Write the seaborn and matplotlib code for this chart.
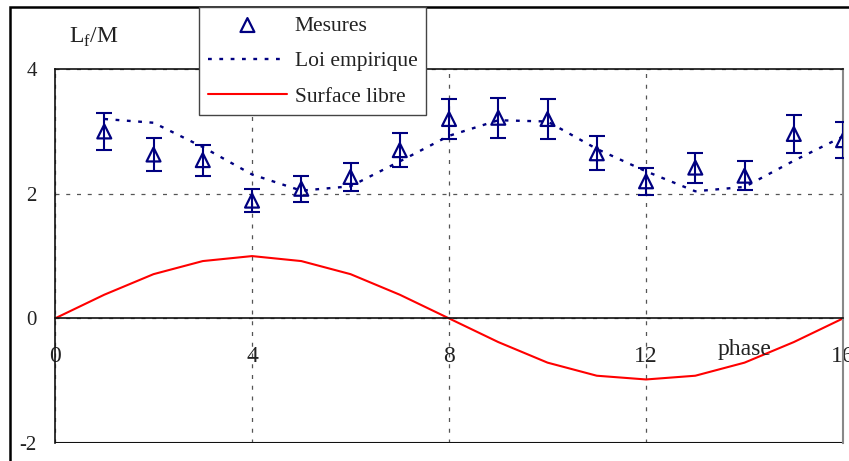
import numpy as np
import pandas as pd
import seaborn as sns
import matplotlib.pyplot as plt
from matplotlib.ticker import MultipleLocator
from matplotlib.patches import Rectangle

# values
phase_mes = [1, 2, 3, 4, 5, 6, 7, 8, 9, 10, 11, 12, 13, 14, 15, 16]
mesures = [3.0, 2.63, 2.54, 1.89, 2.08, 2.27, 2.70, 3.20, 3.22, 3.20, 2.65, 2.20, 2.42, 2.29, 2.96, 2.86]
erreur = [0.30, 0.26, 0.25, 0.19, 0.21, 0.23, 0.27, 0.32, 0.32, 0.32, 0.27, 0.22, 0.24, 0.23, 0.30, 0.29]
loi_empirique = [3.20, 3.14, 2.75, 2.31, 2.05, 2.12, 2.52, 2.93, 3.18, 3.16, 2.72, 2.36, 2.04, 2.11, 2.53, 2.92]
phase_surf = [0, 1, 2, 3, 4, 5, 6, 7, 8, 9, 10, 11, 12, 13, 14, 15, 16]
surface_libre = [0, 0.38, 0.71, 0.92, 1.0, 0.92, 0.71, 0.38, 0, -0.38, -0.71, -0.92, -0.98, -0.92, -0.71, -0.38, 0]

df_mes = pd.DataFrame({'phase': phase_mes, 'mesure': mesures, 'loi': loi_empirique})
df_surf = pd.DataFrame({'phase': phase_surf, 'surface': surface_libre})

sns.set_style('white')
plt.rcParams['font.family'] = ['Liberation Serif', 'DejaVu Serif']
plt.rcParams['mathtext.fontset'] = 'custom'
plt.rcParams['mathtext.rm'] = 'Liberation Serif'
plt.rcParams['axes.unicode_minus'] = False

fig, ax = plt.subplots(figsize=(8.49, 4.61), dpi=100)
fig.subplots_adjust(left=0.0648, right=0.993, bottom=0.039, top=0.850)

navy = '#000080'

# lines
sns.lineplot(data=df_mes, x='phase', y='loi', ax=ax, color=navy, lw=1.7,
             linestyle=(0, (1.6, 3.2)), label='Loi empirique', legend=False)
sns.lineplot(data=df_surf, x='phase', y='surface', ax=ax, color='#ff0000', lw=1.5,
             label='Surface libre', legend=False)

# measurements with 10% error bars
ax.errorbar(phase_mes, mesures, yerr=erreur, fmt='none', ecolor=navy,
            elinewidth=1.5, capsize=5.5, capthick=1.5, zorder=3)
sns.scatterplot(data=df_mes, x='phase', y='mesure', ax=ax, marker='^', s=100,
                facecolor='none', edgecolor=navy, linewidth=1.6, zorder=4,
                label='Mesures', legend=False)

ax.set_xlim(0, 16)
ax.set_ylim(-2, 4)
ax.set_xlabel('')
ax.set_ylabel('')

# x axis crosses at y = 0 (set before the tick styling, it resets ticks)
ax.spines['bottom'].set_position(('data', 0))
for s in ['left', 'bottom', 'top']:
    ax.spines[s].set_color('#111')
    ax.spines[s].set_linewidth(1.2)
ax.spines['right'].set_color('#888')
ax.spines['right'].set_linewidth(1.5)
ax.axhline(-2, color='#111', lw=1.5, zorder=2)

ax.xaxis.set_major_locator(MultipleLocator(4))
ax.xaxis.set_minor_locator(MultipleLocator(2))
ax.yaxis.set_major_locator(MultipleLocator(2))
ax.yaxis.set_minor_locator(MultipleLocator(1))
ax.tick_params(which='both', direction='inout', length=10, width=1.2, color='#222')
ax.tick_params(axis='x', which='major', pad=15, labelsize=17, labelcolor='#222')
ax.tick_params(axis='y', which='major', pad=8, labelsize=15, labelcolor='#222')

ax.grid(True, which='major', linestyle=(0, (3.2, 5.4)), color='#555', lw=0.9)
ax.set_axisbelow(True)

ax.text(14, -0.58, 'phase', ha='center', va='baseline', fontsize=17, color='#222')
fig.text(94 / 849, 1 - 43 / 461, r'L$_{\rm f}$/M', ha='center', va='baseline',
         fontsize=17, color='#222')

handles, labels = ax.get_legend_handles_labels()
order = [labels.index(l) for l in ['Mesures', 'Loi empirique', 'Surface libre']]
leg = fig.legend([handles[i] for i in order], [labels[i] for i in order],
                 loc='upper left', bbox_to_anchor=(199 / 849, 1 - 7 / 461),
                 borderaxespad=0, fancybox=False, framealpha=1, edgecolor='#444',
                 fontsize=15.5, handlelength=3.7, labelspacing=0.72, scatterpoints=1,
                 borderpad=0.4, handletextpad=0.35)
leg.get_frame().set_linewidth(1.0)
for t in leg.get_texts():
    t.set_color('#222')

# outer frame of the chart
fig.patches.append(Rectangle((10 / 849, -0.1), 1.2, 1 - 7 / 461 + 0.1,
                             transform=fig.transFigure, fill=False,
                             edgecolor='black', lw=1.8))

plt.savefig('out.png', dpi=100)
